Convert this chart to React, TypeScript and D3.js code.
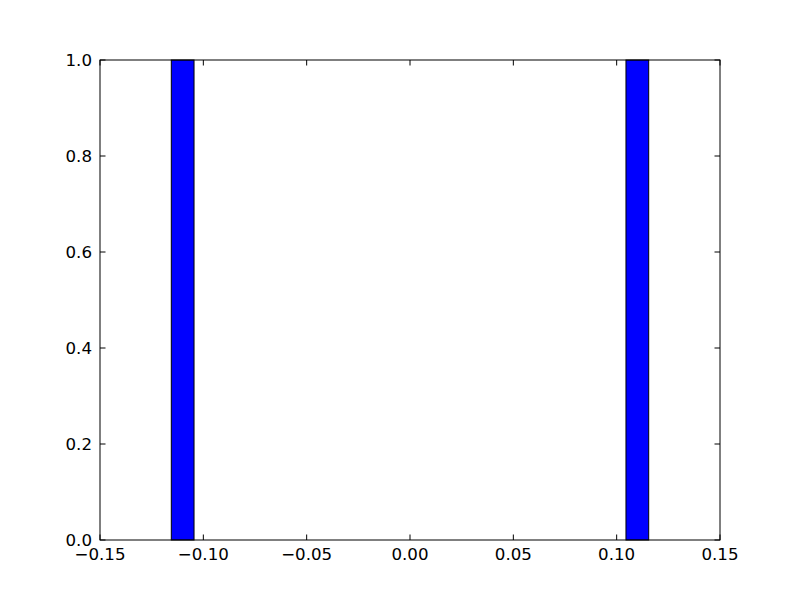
import React from "react";
import * as d3 from "d3";

const binStarts = [-0.1155, 0.1045];
const binEnds = [-0.1045, 0.1155];
const counts = [1, 1];
const xTicks = [-0.15, -0.1, -0.05, 0, 0.05, 0.1, 0.15];
const yTicks = [0, 0.2, 0.4, 0.6, 0.8, 1.0];

export default function App() {
  const W = 800, H = 600;
  const left = 100, right = 720, top = 60, bottom = 540;
  const x = d3.scaleLinear().domain([-0.15, 0.15]).range([left, right]);
  const y = d3.scaleLinear().domain([0, 1]).range([bottom, top]);
  const tl = 5.5;
  const fmtX = (v: number) => d3.format(".2f")(v).replace("-", "\u2212");
  const fmtY = (v: number) => d3.format(".1f")(v);
  const font = "DejaVu Sans";
  const fs = 16.67;
  return (
    <svg width={W} height={H} style={{ position: "absolute", left: 0, top: 0, background: "#fff" }}>
      <rect x={0} y={0} width={W} height={H} fill="#fff" />
      {counts.map((c, i) => (
        <rect
          key={i}
          x={x(binStarts[i])}
          y={y(c)}
          width={x(binEnds[i]) - x(binStarts[i])}
          height={y(0) - y(c)}
          fill="#0000ff"
          stroke="#000"
          strokeWidth={1}
        />
      ))}
      {xTicks.map((t, i) => (
        <g key={"x" + i}>
          <line x1={x(t)} x2={x(t)} y1={bottom} y2={bottom - tl} stroke="#000" />
          <line x1={x(t)} x2={x(t)} y1={top} y2={top + tl} stroke="#000" />
          <text x={x(t)} y={bottom + 20} textAnchor="middle" fontFamily={font} fontSize={fs} fill="#000">
            {fmtX(t)}
          </text>
        </g>
      ))}
      {yTicks.map((t, i) => (
        <g key={"y" + i}>
          <line x1={left} x2={left + tl} y1={y(t)} y2={y(t)} stroke="#000" />
          <line x1={right} x2={right - tl} y1={y(t)} y2={y(t)} stroke="#000" />
          <text x={left - 8} y={y(t)} dy="0.35em" textAnchor="end" fontFamily={font} fontSize={fs} fill="#000">
            {fmtY(t)}
          </text>
        </g>
      ))}
      <rect x={left} y={top} width={right - left} height={bottom - top} fill="none" stroke="#000" strokeWidth={1} />
    </svg>
  );
}
